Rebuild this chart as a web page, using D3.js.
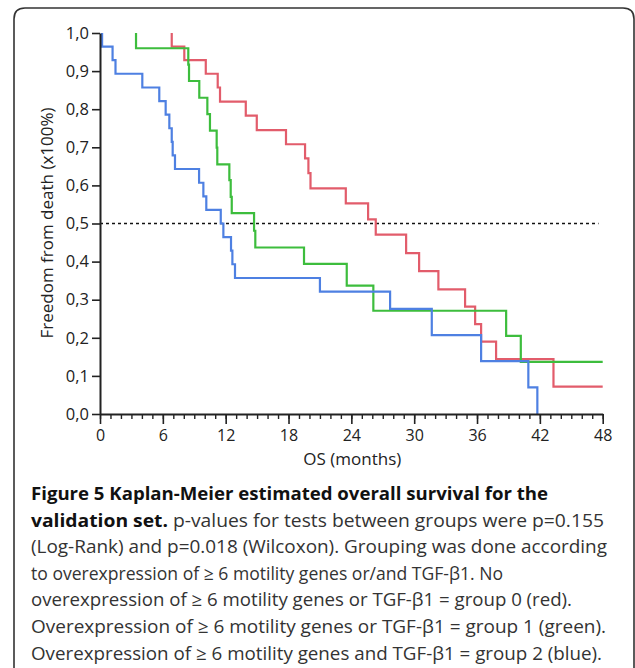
<!DOCTYPE html>
<html>
<head>
<meta charset="utf-8">
<script src="https://cdn.jsdelivr.net/npm/d3@7"></script>
<style>
  body { margin: 0; background: #fff; }
  text { font-family: "Open Sans", "Noto Sans", sans-serif; }
</style>
</head>
<body>
<script>
// Kaplan-Meier steps: event time (months) and survival after the drop
var redTimes = [6.85, 8.05, 10.1, 11.24, 11.46, 13.92, 14.97, 17.76, 19.58, 19.9, 20.1, 23.47, 25.6, 26.33, 29.23, 30.47, 32.31, 34.86, 35.82, 36.39, 37.82, 43.3];
var redSurv  = [0.964, 0.929, 0.893, 0.857, 0.820, 0.783, 0.745, 0.708, 0.671, 0.632, 0.592, 0.553, 0.511, 0.471, 0.422, 0.375, 0.327, 0.282, 0.236, 0.190, 0.144, 0.072];
var redEnd = 48;

var greenTimes = [3.44, 8.43, 8.5, 9.48, 10.25, 10.5, 11.14, 11.2, 12.35, 12.48, 12.58, 14.71, 14.83, 19.48, 23.56, 26.1, 38.78, 40.18];
var greenSurv  = [0.960, 0.917, 0.874, 0.830, 0.787, 0.744, 0.699, 0.655, 0.614, 0.570, 0.527, 0.481, 0.437, 0.394, 0.337, 0.271, 0.205, 0.137];
var greenEnd = 48;

var blueTimes = [0.2, 1.2, 1.48, 4.04, 5.66, 6.27, 6.62, 6.85, 6.94, 7.16, 9.46, 9.87, 10.15, 11.53, 11.78, 12.51, 12.64, 12.89, 21.0, 27.7, 31.68, 36.39, 40.9, 41.76];
var blueSurv  = [0.964, 0.929, 0.893, 0.857, 0.821, 0.786, 0.750, 0.714, 0.679, 0.643, 0.607, 0.571, 0.536, 0.500, 0.464, 0.429, 0.393, 0.357, 0.321, 0.276, 0.207, 0.139, 0.070, 0];
var blueEnd = null;

var yTicks = [0, 0.1, 0.2, 0.3, 0.4, 0.5, 0.6, 0.7, 0.8, 0.9, 1.0];
var xTicks = [0, 6, 12, 18, 24, 30, 36, 42, 48];
var xMinorTicks = d3.range(0, 49, 1);
var medianLine = 0.5;
var medianEnd = 47.6;

var xTitle = "OS (months)";
var yTitle = "Freedom from death (x100%)";

// caption: each line is a list of [text, bold]
var captionLines = [
  [["Figure 5 Kaplan-Meier estimated overall survival for the", true]],
  [["validation set.", true], [" p-values for tests between groups were p=0.155", false]],
  [["(Log-Rank) and p=0.018 (Wilcoxon). Grouping was done according", false]],
  [["to overexpression of \u2265 6 motility genes or/and TGF-\u03b21. No", false]],
  [["overexpression of \u2265 6 motility genes or TGF-\u03b21 = group 0 (red).", false]],
  [["Overexpression of \u2265 6 motility genes or TGF-\u03b21 = group 1 (green).", false]],
  [["Overexpression of \u2265 6 motility genes and TGF-\u03b21 = group 2 (blue).", false]]
];
var captionWidths = [517, 573, 576, 472, 541, 575, 571];

var svg = d3.select("body").append("svg")
    .attr("width", 635)
    .attr("height", 668);

// rounded frame, open at the bottom
svg.append("path")
    .attr("d", "M14,680 V19 Q14,8 25,8 H623 Q634,8 634,19 V680")
    .attr("fill", "none")
    .attr("stroke", "#333")
    .attr("stroke-width", 1.6);

var x = d3.scaleLinear().domain([0, 48]).range([100, 602.7]);
var y = d3.scaleLinear().domain([0, 1]).range([414, 33]);

// dashed median line
svg.append("line")
    .attr("x1", x(0)).attr("x2", x(medianEnd))
    .attr("y1", y(medianLine)).attr("y2", y(medianLine))
    .attr("stroke", "#111")
    .attr("stroke-width", 1.6)
    .attr("stroke-dasharray", "3,3");

function steps(times, surv, end) {
    var pts = [[times[0], 1]];
    times.forEach(function (t, i) { pts.push([t, surv[i]]); });
    if (end != null) pts.push([end, surv[surv.length - 1]]);
    return pts;
}

var kmLine = d3.line()
    .x(function (d) { return x(d[0]); })
    .y(function (d) { return y(d[1]); })
    .curve(d3.curveStepAfter);

var series = [
    { pts: steps(redTimes, redSurv, redEnd), color: "#e25c6b" },
    { pts: steps(greenTimes, greenSurv, greenEnd), color: "#3dbd3d" },
    { pts: steps(blueTimes, blueSurv, blueEnd), color: "#4e80e2" }
];

series.forEach(function (s) {
    svg.append("path")
        .datum(s.pts)
        .attr("fill", "none")
        .attr("stroke", s.color)
        .attr("stroke-width", 2.2)
        .attr("d", kmLine);
});

// minor x ticks
svg.append("g")
    .attr("transform", "translate(0," + y(0) + ")")
    .call(d3.axisBottom(x).tickValues(xMinorTicks).tickSize(5).tickSizeOuter(0).tickFormat(""))
    .call(function (g) {
        g.select(".domain").remove();
        g.selectAll(".tick line").attr("stroke", "#222").attr("stroke-width", 1.4);
    });

// major x axis
svg.append("g")
    .attr("transform", "translate(0," + y(0) + ")")
    .call(d3.axisBottom(x).tickValues(xTicks).tickSize(10).tickSizeOuter(0).tickPadding(6).tickFormat(d3.format("d")))
    .call(function (g) {
        g.select(".domain").attr("stroke", "#222").attr("stroke-width", 2);
        g.selectAll(".tick line").attr("stroke", "#222").attr("stroke-width", 1.6);
        g.selectAll(".tick text").attr("font-size", 16).attr("fill", "#222")
            .style("font-family", "'Open Sans', sans-serif");
    });

// y axis
svg.append("g")
    .attr("transform", "translate(" + x(0) + ",0)")
    .call(d3.axisLeft(y).tickValues(yTicks).tickSize(8).tickSizeOuter(0).tickPadding(3)
        .tickFormat(function (d) { return d3.format(".1f")(d).replace(".", ","); }))
    .call(function (g) {
        g.select(".domain").attr("stroke", "#222").attr("stroke-width", 2);
        g.selectAll(".tick line").attr("stroke", "#222").attr("stroke-width", 1.6);
        g.selectAll(".tick text").attr("font-size", 16.5).attr("fill", "#222")
            .style("font-family", "'Open Sans', sans-serif");
    });

// axis titles
svg.append("text")
    .attr("x", (x(0) + x(48)) / 2 + 1)
    .attr("y", 465)
    .attr("text-anchor", "middle")
    .attr("font-size", 17)
    .attr("fill", "#222")
    .text(xTitle);

svg.append("text")
    .attr("transform", "translate(53," + ((y(0) + y(1)) / 2 - 0.5) + ") rotate(-90)")
    .attr("text-anchor", "middle")
    .attr("font-size", 17)
    .attr("fill", "#222")
    .text(yTitle);

// caption
captionLines.forEach(function (line, i) {
    var t = svg.append("text")
        .attr("x", 31)
        .attr("y", 500 + i * 26.6)
        .attr("font-size", 18)
        .attr("fill", "#222")
        .attr("textLength", captionWidths[i])
        .attr("lengthAdjust", "spacingAndGlyphs");
    line.forEach(function (seg) {
        t.append("tspan")
            .attr("font-weight", seg[1] ? "bold" : "normal")
            .attr("fill", seg[1] ? "#111" : "#333")
            .text(seg[0]);
    });
});
</script>
</body>
</html>
